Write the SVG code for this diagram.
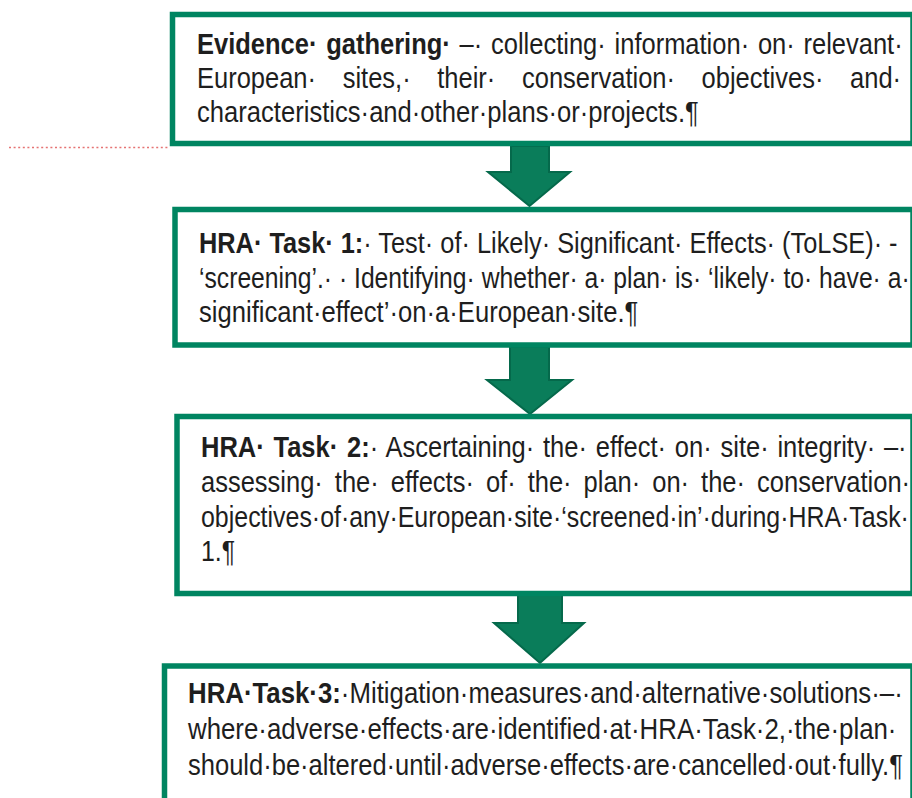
<svg xmlns="http://www.w3.org/2000/svg" width="912" height="798" viewBox="0 0 912 798">
<defs>
<style>
.box{fill:#ffffff;stroke:#008561;stroke-width:5.5}
.arr{fill:#0a7d5a;stroke:#05694b;stroke-width:2;stroke-linejoin:miter}
.t{font-family:"Liberation Sans",Arial,sans-serif;font-size:30px;fill:#1e1e1e}
.b{font-weight:bold}
.guide{stroke:#e57373;stroke-width:1.6;stroke-dasharray:2 2.6;fill:none}
</style>
</defs>
<rect width="912" height="798" fill="#ffffff"/>
<line class="guide" x1="9" y1="147.5" x2="170" y2="147.5"/>

<g id="connectors">
<polygon class="arr" points="511,146 549,146 549,172 570,172 529.5,206 488,172 511,172"/>
<polygon class="arr" points="510,347 549,347 549,380 572,380 530,414 487,380 510,380"/>
<polygon class="arr" points="518,595 562,595 562,623 584,623 540,663 494,623 518,623"/>
</g>

<g id="evidence">
<rect class="box" x="172.5" y="14.5" width="740.5" height="129"/>
<text class="t" transform="translate(197 54) scale(0.85 1)" word-spacing="2"><tspan class="b">Evidence· gathering·</tspan> –· collecting· information· on· relevant·</text>
<text class="t" transform="translate(197 88) scale(0.85 1)" word-spacing="23">European· sites,· their· conservation· objectives· and·</text>
<text class="t" transform="translate(197 122) scale(0.854 1)">characteristics·and·other·plans·or·projects.¶</text>
</g>

<g id="task1">
<rect class="box" x="175" y="209.5" width="738" height="135.5"/>
<text class="t" transform="translate(199 253) scale(0.845 1)"><tspan class="b">HRA· Task· 1:</tspan>· Test· of· Likely· Significant· Effects· (ToLSE)· -</text>
<text class="t" transform="translate(199 288) scale(0.823 1)">‘screening’.· · Identifying· whether· a· plan· is· ‘likely· to· have· a·</text>
<text class="t" transform="translate(199 322) scale(0.855 1)">significant·effect’·on·a·European·site.¶</text>
</g>

<g id="task2">
<rect class="box" x="177" y="416.5" width="736" height="177"/>
<text class="t" transform="translate(201 457) scale(0.85 1)" word-spacing="2"><tspan class="b">HRA· Task· 2:</tspan>· Ascertaining· the· effect· on· site· integrity· –·</text>
<text class="t" transform="translate(201 492) scale(0.85 1)" word-spacing="5.8">assessing· the· effects· of· the· plan· on· the· conservation·</text>
<text class="t" transform="translate(201 527) scale(0.831 1)">objectives·of·any·European·site·‘screened·in’·during·HRA·Task·</text>
<text class="t" transform="translate(201 561) scale(0.83 1)">1.¶</text>
</g>

<g id="task3">
<rect class="box" x="164.5" y="666" width="748.5" height="160"/>
<text class="t" transform="translate(188 703) scale(0.86 1)"><tspan class="b">HRA·Task·3:</tspan>·Mitigation·measures·and·alternative·solutions·–·</text>
<text class="t" transform="translate(188 739) scale(0.861 1)">where·adverse·effects·are·identified·at·HRA·Task·2,·the·plan·</text>
<text class="t" transform="translate(188 775) scale(0.851 1)">should·be·altered·until·adverse·effects·are·cancelled·out·fully.¶</text>
</g>
</svg>
